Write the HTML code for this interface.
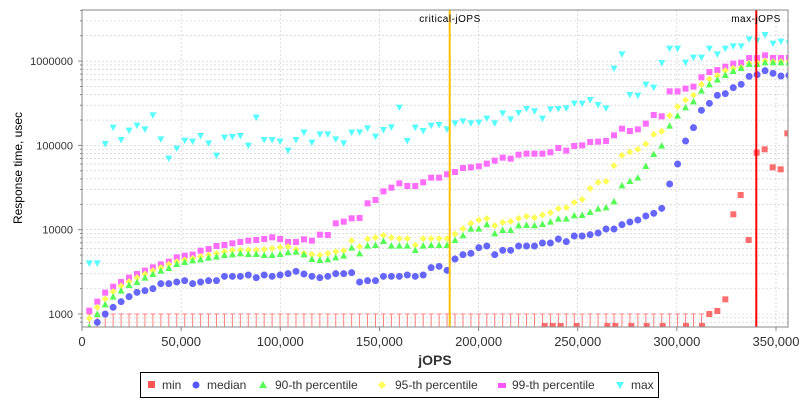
<!DOCTYPE html>
<html><head><meta charset="utf-8"><style>
html,body{margin:0;padding:0;background:#fff;width:800px;height:400px;overflow:hidden}
svg text{font-family:"Liberation Sans",sans-serif}
</style></head><body>
<svg id="s" width="800" height="400" xmlns="http://www.w3.org/2000/svg"></svg>
<script>
const S=document.getElementById('s');let h='';
const L=82,R=788,T=10,B=327;
const yv=v=>314-(Math.log10(v)-3)*84.3;
const xj=j=>L+j/350000*694;
h+='<rect x="0" y="0" width="800" height="400" fill="#fff"/>';
h+=`<defs><clipPath id="c"><rect x="${L}" y="${T}" width="${R-L}" height="${B-T}"/></clipPath></defs>`;
for(let d=2;d<=6;d++)for(let m=1;m<=9;m++){const y=yv(m*Math.pow(10,d));if(y>T&&y<B)h+=`<line x1="${L}" x2="${R}" y1="${y}" y2="${y}" stroke="#c8c8c8" stroke-width="0.6" stroke-dasharray="2,2"/>`;}
for(let j=50000;j<=350000;j+=50000){h+=`<line x1="${xj(j)}" x2="${xj(j)}" y1="${T}" y2="${B}" stroke="#c8c8c8" stroke-width="0.6" stroke-dasharray="2,2"/>`;}
[1000,10000,100000,1000000].forEach(v=>{const y=yv(v);h+=`<text x="73" y="${y+4}" font-size="11" text-anchor="end" fill="#333">${v}</text><line x1="78" x2="82" y1="${y}" y2="${y}" stroke="#888"/>`;});
for(let d=2;d<=6;d++)for(let m=2;m<=9;m++){const y=yv(m*Math.pow(10,d));if(y>T&&y<B)h+=`<line x1="80" x2="82" y1="${y}" y2="${y}" stroke="#888"/>`;}
for(let j=0;j<=350000;j+=50000){const x=xj(j);h+=`<line x1="${x}" x2="${x}" y1="${B}" y2="${B+4}" stroke="#888"/><text x="${x}" y="346" font-size="13" text-anchor="middle" fill="#333">${j.toLocaleString('en-US')}</text>`;}
h+=`<text x="435" y="365" font-size="14" font-weight="bold" text-anchor="middle" fill="#333">jOPS</text>`;
h+=`<text transform="translate(22,168) rotate(-90)" font-size="12" text-anchor="middle" fill="#000">Response time, usec</text>`;
const X=i=>89.3+7.95*i;
function build(a1,s1,a2){const o={};a1.forEach((v,k)=>{const i=s1+k;if(i<=38)o[i]=v/3;});a2.forEach((v,k)=>{o[39+k]=v/3;});return o;}
const blue=build([967,942,922,905,890,877,872,866,851,851,846,842,851,846,842,842,829,829,829,825,833,825,829,825,821,814,822,829,833,829,821,821,818,846,842,842,829,829],1,[829,825,829,825,803,799,811,777,764,760,743,738,764,751,751,738,738,738,729,729,717,725,708,708,704,699,687,687,674,666,660,648,640,625,552,492,423,383,331,310,286,281,263,253,229,224,212,220,228,226]);
const green=build([980,942,913,890,872,855,846,833,822,812,804,792,786,781,778,773,770,765,763,760,762,762,765,765,762,757,755,763,777,780,778,772,767,743,760,737,735,723,737],0,[737,737,750,737,735,735,735,720,706,686,686,673,700,690,690,676,675,676,672,665,656,656,646,645,636,626,622,604,556,543,533,498,462,437,377,347,322,304,272,253,239,225,213,204,192,192,187,187,187,187]);
const yel=build([955,922,897,875,858,845,833,822,812,803,793,785,780,775,770,765,760,755,751,750,750,750,748,745,742,740,748,760,763,765,760,755,752,722,740,717,713,706,713],0,[716,716,735,716,716,716,716,702,686,670,660,656,677,667,664,655,649,653,645,638,626,623,607,598,565,547,544,497,466,456,448,432,403,394,347,320,300,285,253,237,227,212,205,203,190,188,183,185,185,184]);
const mag=build([932,905,878,860,846,833,822,812,802,793,785,772,767,764,752,747,738,735,730,726,722,720,717,712,717,726,726,718,722,704,705,670,665,655,654,610,600,574,563],0,[550,558,558,547,533,533,523,516,504,502,499,491,482,473,476,464,461,461,461,457,444,452,438,436,426,425,423,406,386,393,388,371,345,349,274,274,266,260,232,216,210,200,191,188,174,174,166,174,174,174]);
const cy=build([790,790,432,383,420,392,377,388,346,418,476,446,422,425,408,430,467,413,411,408,437,353,420,420,425,452,420,398,428,403,403,418,430,398,397,385,410,390,382],0,[323,423,383,393,377,375,388,370,364,370,368,356,370,340,358,339,327,334,356,328,327,325,311,311,300,315,325,206,163,285,287,254,263,189,146,146,188,173,173,146,163,146,139,139,118,122,105,131,125,130]);
let g='<g clip-path="url(#c)">';
for(let i=0;i<=77;i++){const x=X(i);g+=`<line x1="${x}" x2="${x}" y1="314" y2="${B}" stroke="#ff8080" stroke-width="1"/><line x1="${x-2.5}" x2="${x+2.5}" y1="314" y2="314" stroke="#ff8080"/>`;}
[434,458,482,530,622,646,694,740,788,858,906].forEach(z=>{const x=400+z/3;g+=`<rect x="${x-3}" y="323" width="6" height="6" fill="#ff5555" opacity=".85"/>`;});
[[928,942],[952,933],[976,898],[1000,643],[1022,585],[1046,720],[1070,458],[1094,448],[1118,502],[1142,508],[1162,400]].forEach(([z,y])=>{g+=`<rect x="${400+z/3-3}" y="${y/3-3}" width="6" height="6" fill="#ff5555" opacity=".85"/>`;});
for(const i in cy){const x=X(+i),y=cy[i];g+=`<polygon points="${x-3.5},${y-3} ${x+3.5},${y-3} ${x},${y+3.5}" fill="#55ffff"/>`;}
for(const i in mag){const x=X(+i),y=mag[i];g+=`<rect x="${x-3}" y="${y-3}" width="6" height="6" fill="#ff55ff" opacity=".85"/>`;}
for(const i in yel){const x=X(+i),y=yel[i];g+=`<polygon points="${x},${y-3.5} ${x+3.5},${y} ${x},${y+3.5} ${x-3.5},${y}" fill="#ffff55"/>`;}
for(const i in green){const x=X(+i),y=green[i];g+=`<polygon points="${x},${y-3.5} ${x+3.5},${y+3} ${x-3.5},${y+3}" fill="#55ff55"/>`;}
for(const i in blue){const x=X(+i),y=blue[i];g+=`<circle cx="${x}" cy="${y}" r="3.5" fill="#5555ff" opacity=".9"/>`;}
g+='</g>';h+=g;
h+=`<line x1="449.7" x2="449.7" y1="${T}" y2="${B}" stroke="#ffc000" stroke-width="2"/><line x1="756.3" x2="756.3" y1="${T}" y2="${B}" stroke="#ff0000" stroke-width="2"/>`;
h+=`<text x="450" y="22" font-size="10" text-anchor="middle" fill="#000" letter-spacing=".5">critical-jOPS</text><text x="756" y="22" font-size="10" text-anchor="middle" fill="#000" letter-spacing=".5">max-jOPS</text>`;
h+=`<rect x="${L}" y="${T}" width="${R-L}" height="${B-T}" fill="none" stroke="#888"/>`;
h+=`<rect x="140.5" y="372.5" width="518" height="25" fill="#fff" stroke="#000"/>`;
const ly=385;
h+=`<rect x="148" y="${ly-4}" width="7" height="7" fill="#ff5555"/><text x="162" y="${ly+4}" font-size="12" fill="#333">min</text>`;
h+=`<circle cx="196" cy="${ly}" r="3.5" fill="#5555ff"/><text x="207" y="${ly+4}" font-size="12" fill="#333">median</text>`;
h+=`<polygon points="263,${ly-4} 267,${ly+3} 259,${ly+3}" fill="#55ff55"/><text x="275" y="${ly+4}" font-size="12" fill="#333">90-th percentile</text>`;
h+=`<polygon points="382,${ly-4} 386,${ly} 382,${ly+4} 378,${ly}" fill="#ffff55"/><text x="395" y="${ly+4}" font-size="12" fill="#333">95-th percentile</text>`;
h+=`<rect x="498" y="${ly-2}" width="8" height="5" fill="#ff55ff"/><text x="512" y="${ly+4}" font-size="12" fill="#333">99-th percentile</text>`;
h+=`<polygon points="616,${ly-3} 624,${ly-3} 620,${ly+4}" fill="#55ffff"/><text x="631" y="${ly+4}" font-size="12" fill="#333">max</text>`;
S.innerHTML=h;
</script>
</body></html>
